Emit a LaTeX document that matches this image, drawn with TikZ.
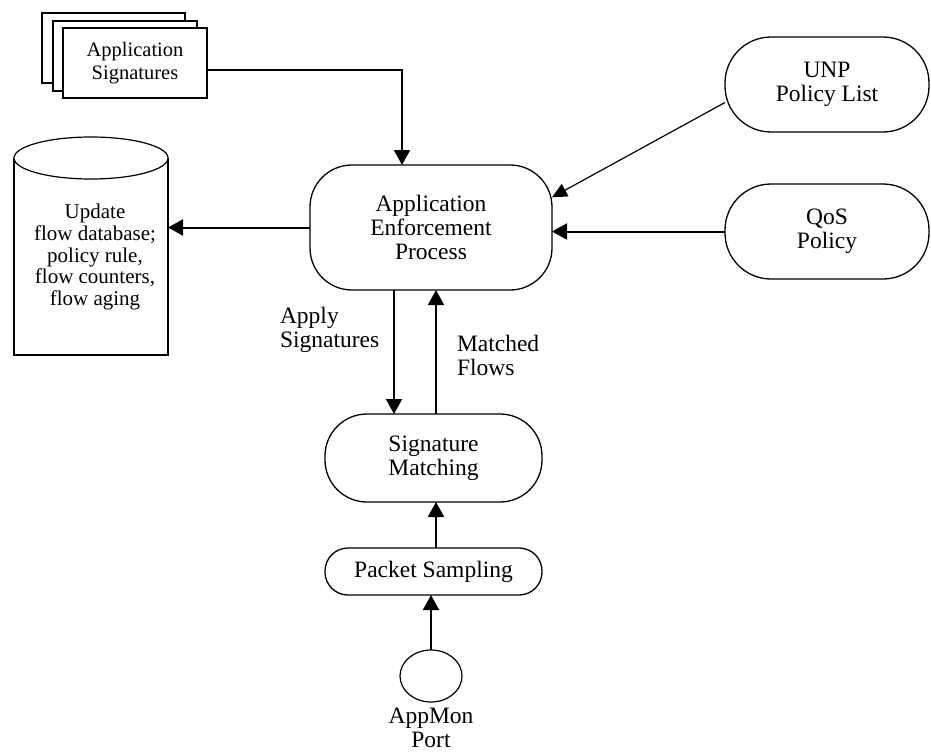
\documentclass[tikz,border=0pt]{standalone}
\usepackage{fontspec}
\setmainfont{Liberation Serif}
\usetikzlibrary{arrows.meta,calc,shapes.geometric}
\begin{document}
\begin{tikzpicture}[x=1pt,y=-1pt,
  every node/.style={inner sep=0pt,outer sep=0pt},
  mainfont/.style={font=\fontsize{23.5}{24}\selectfont},
  proc/.style={draw,line width=1.3pt,mainfont,align=center},
  docbox/.style={draw,line width=2pt,fill=white},
  arr/.style={line width=2pt,-{Triangle[length=15pt,width=16pt]}},
  thinarr/.style={line width=1.2pt,-{Triangle[length=15pt,width=14pt]}}
]
\useasboundingbox (0,0) rectangle (931,752);
% stacked documents
\draw[docbox] (42,13) rectangle (185,83);
\draw[docbox] (53,21) rectangle (197,91);
\node[docbox,minimum width=144pt,minimum height=70pt,align=center,
  font=\fontsize{20.5}{23}\selectfont] (doc) at (135,63) {Application\\Signatures};
% database cylinder
\draw[line width=1.5pt] (14,158) -- (14,355) -- (168,355) -- (168,158);
\draw[line width=1.2pt,fill=white] (91,158) ellipse [x radius=77, y radius=21];
\node[align=center,font=\fontsize{21}{21.7}\selectfont] (db) at (95,257)
  {Update\\flow database;\\policy rule,\\flow counters,\\flow aging};
\coordinate (dbR) at (168,229);
% process nodes
\node[proc,rounded corners=42pt,minimum width=242pt,minimum height=125pt] (aep) at (431,227.5)
  {Application\\Enforcement\\Process};
\node[proc,rounded corners=46pt,minimum width=204pt,minimum height=95pt] (unp) at (827,84.5)
  {UNP\\Policy List};
\node[proc,rounded corners=46pt,minimum width=204pt,minimum height=95pt] (qos) at (827,231.5)
  {QoS\\Policy};
\node[proc,rounded corners=42pt,minimum width=217pt,minimum height=88pt] (sm) at (433.5,458)
  {Signature\\Matching};
\node[proc,rounded corners=23pt,minimum width=217pt,minimum height=47pt] (ps) at (433.5,571.5)
  {Packet Sampling};
\node[draw,line width=1.2pt,ellipse,minimum width=62pt,minimum height=52pt] (port) at (431,676) {};
\node[mainfont,align=center] (portlbl) at (431,728) {AppMon\\Port};
% labels
\node[mainfont,align=left,anchor=west] (applbl) at (280,330) {Apply\\Signatures};
\node[mainfont,align=left,anchor=west] (matlbl) at (457,355) {Matched\\Flows};
% connectors
\draw[arr] ([yshift=-7pt]doc.east) -| ([xshift=-29pt]aep.north);
\draw[arr] (aep.west) -- (aep.west -| dbR);
\draw[thinarr] (unp.190) -- (aep.14);
\draw[arr] (qos.west) -- (qos.west -| aep.east);
\draw[arr] ([xshift=-37pt]aep.south) -- ([xshift=-37pt]aep.south |- sm.north);
\draw[arr] ([xshift=5pt]aep.south |- sm.north) -- ([xshift=5pt]aep.south);
\draw[arr] ([xshift=2.5pt]ps.north) -- ([xshift=2.5pt]ps.north |- sm.south);
\draw[arr] (port.north) -- (port.north |- ps.south);
\end{tikzpicture}
\end{document}
